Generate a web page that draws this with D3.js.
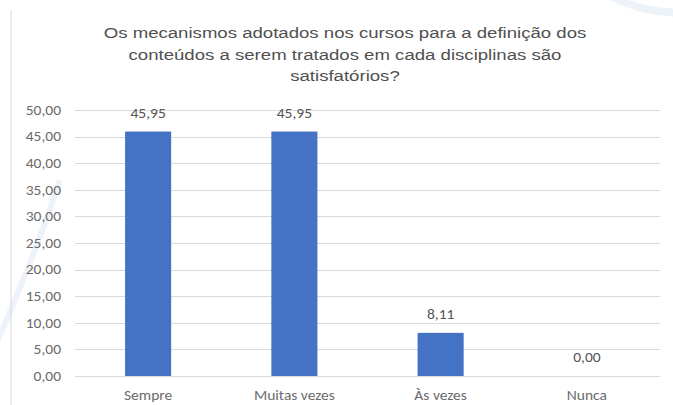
<!DOCTYPE html>
<html><head><meta charset="utf-8">
<script src="https://cdn.jsdelivr.net/npm/d3@7"></script>
<style>html,body{margin:0;padding:0;background:#fff;overflow:hidden}</style>
</head><body>
<script>
const categories = ["Sempre", "Muitas vezes", "Às vezes", "Nunca"];
const values = [45.95, 45.95, 8.11, 0.00];
const yTicks = [0, 5, 10, 15, 20, 25, 30, 35, 40, 45, 50];
const titleLines = ["Os mecanismos adotados nos cursos para a definição dos",
  "conteúdos a serem tratados em cada disciplinas são", "satisfatórios?"];

const W = 673, H = 405;
const svg = d3.select("body").append("svg").attr("width", W).attr("height", H);
const fmt = v => v.toFixed(2).replace(".", ",");
const SX = 1.15;
const smallFont = "Carlito, 'Liberation Sans', sans-serif";

// faint decorative background arcs
svg.append("path").attr("d", "M-40,420 Q20,300 60,180").attr("fill", "none")
  .attr("stroke", "#eef3fa").attr("stroke-width", 6);
svg.append("path").attr("d", "M600,-10 Q650,20 700,10").attr("fill", "none")
  .attr("stroke", "#eef3fa").attr("stroke-width", 8);

// left border
svg.append("line").attr("x1", 11).attr("x2", 11).attr("y1", 10).attr("y2", H)
  .attr("stroke", "#d9d9d9").attr("stroke-width", 1);

const x = d3.scaleBand().domain(categories).range([75, 660]).paddingInner(0.685).paddingOuter(0.3425);
const y = d3.scaleLinear().domain([0, 50]).range([376, 110]);

// gridlines
svg.append("g").selectAll("line").data(yTicks).join("line")
  .attr("x1", 75).attr("x2", 660)
  .attr("y1", d => Math.round(y(d)) + 0.5).attr("y2", d => Math.round(y(d)) + 0.5)
  .attr("stroke", "#d9d9d9").attr("stroke-width", 1);

// y axis labels
const yAxis = d3.axisLeft(y).tickValues(yTicks).tickFormat(fmt).tickSize(0).tickPadding(0);
const ga = svg.append("g").attr("transform", "translate(61,0)").call(yAxis);
ga.select(".domain").remove();
ga.selectAll("text").attr("font-family", smallFont)
  .attr("font-size", 13.5).attr("fill", "#6b6b6b")
  .attr("transform", `scale(${SX},1)`);

// bars
svg.append("g").selectAll("rect").data(values).join("rect")
  .attr("x", (d, i) => x(categories[i]))
  .attr("width", x.bandwidth())
  .attr("y", d => y(d))
  .attr("height", d => y(0) - y(d))
  .attr("fill", "#4472c4");

// data labels
svg.append("g").selectAll("text").data(values).join("text")
  .attr("transform", (d, i) => `translate(${x(categories[i]) + x.bandwidth() / 2},${y(d) - 14}) scale(${SX},1)`)
  .attr("text-anchor", "middle")
  .attr("font-family", smallFont)
  .attr("font-size", 13.5).attr("fill", "#555555")
  .text(fmt);

// category labels
const xAxis = d3.axisBottom(x).tickSize(0).tickPadding(0);
const gx = svg.append("g").attr("transform", "translate(0,390)").call(xAxis);
gx.select(".domain").remove();
gx.selectAll("text").attr("font-family", smallFont)
  .attr("font-size", 13.5).attr("fill", "#6b6b6b")
  .attr("transform", `scale(${SX},1)`);

// title
svg.append("g").selectAll("text").data(titleLines).join("text")
  .attr("transform", (d, i) => `translate(345,${38 + i * 21.5}) scale(1.2,1)`)
  .attr("text-anchor", "middle")
  .attr("font-family", "'Liberation Sans', Arial, sans-serif")
  .attr("font-size", 15.5).attr("fill", "#505050")
  .text(d => d);
</script>
</body></html>
